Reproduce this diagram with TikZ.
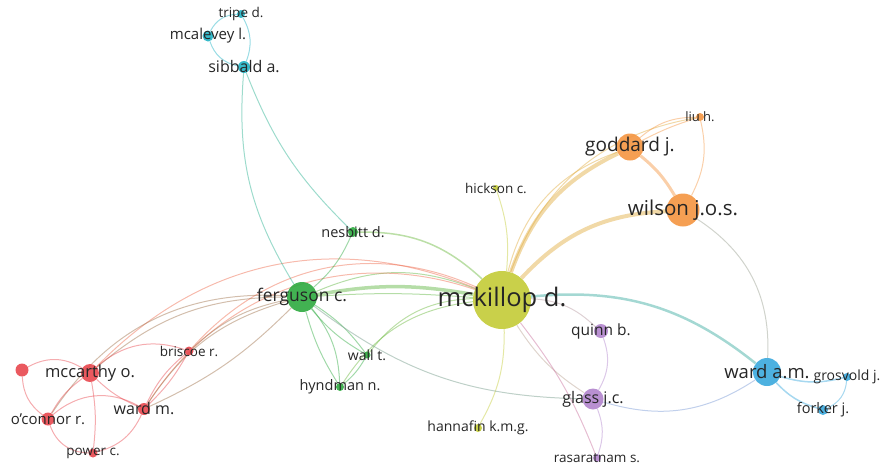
\documentclass[tikz,border=0pt]{standalone}
\usepackage{fontspec}
\setmainfont{Open Sans}
\usetikzlibrary{backgrounds}

\definecolor{txt}{HTML}{262626}
\definecolor{cred}{HTML}{E8474E}
\definecolor{cgreen}{HTML}{2DAA3F}
\definecolor{ccyan}{HTML}{1FB2C4}
\definecolor{cyel}{HTML}{C3CB36}
\definecolor{corg}{HTML}{F49540}
\definecolor{cpur}{HTML}{B184CC}
\definecolor{cblue}{HTML}{3AA8DD}

\tikzset{
  bub/.style={circle, fill=#1, fill opacity=.9, inner sep=0pt},
  lbl/.style={font=\fontsize{#1}{#1}\selectfont, text=txt, inner sep=0pt},
  lnk/.style={draw=#1, line width=1pt, draw opacity=.45},
}

\begin{document}
\begin{tikzpicture}[x=1pt,y=-1pt]
  \useasboundingbox (0,0) rectangle (881,466);

  % yellow cluster
  \node[bub=cyel, minimum size=58pt] (mck) at (502,300) {};
  \node[bub=cyel, minimum size=6pt] (hic) at (496,188) {};
  \node[bub=cyel, minimum size=8pt] (han) at (478,428) {};
  % green cluster
  \node[bub=cgreen, minimum size=30pt] (fer) at (302,297) {};
  \node[bub=cgreen, minimum size=10pt] (nes) at (353,232) {};
  \node[bub=cgreen, minimum size=7pt] (wal) at (367,355) {};
  \node[bub=cgreen, minimum size=8pt] (hyn) at (340,387) {};
  % cyan cluster
  \node[bub=ccyan, minimum size=12pt] (sib) at (244,67) {};
  \node[bub=ccyan, minimum size=11pt] (mca) at (208,36) {};
  \node[bub=ccyan, minimum size=8pt] (tri) at (241,14) {};
  % orange cluster
  \node[bub=corg, minimum size=27pt] (god) at (630,147) {};
  \node[bub=corg, minimum size=33pt] (wil) at (683,210) {};
  \node[bub=corg, minimum size=8pt] (liu) at (700,117) {};
  % purple cluster
  \node[bub=cpur, minimum size=14pt] (qui) at (601,331) {};
  \node[bub=cpur, minimum size=21pt] (gla) at (593,399) {};
  \node[bub=cpur, minimum size=8pt] (ras) at (597,458) {};
  % blue cluster
  \node[bub=cblue, minimum size=28pt] (wam) at (767,372) {};
  \node[bub=cblue, minimum size=8pt] (gro) at (847,377) {};
  \node[bub=cblue, minimum size=10pt] (frk) at (823,410) {};
  % red cluster
  \node[bub=cred, minimum size=18pt] (mcc) at (90,373) {};
  \node[bub=cred, minimum size=13pt] (unk) at (22,370) {};
  \node[bub=cred, minimum size=9pt] (bri) at (189,351) {};
  \node[bub=cred, minimum size=12pt] (wam2) at (144,409) {};
  \node[bub=cred, minimum size=13pt] (oco) at (48,419) {};
  \node[bub=cred, minimum size=9pt] (pow) at (93,453) {};

  \begin{scope}[on background layer]
    % links of mckillop d.
    \draw[lnk=cgreen!70!cyel, line width=3.5pt] (fer) to[bend left=10] (mck);
    \draw[lnk=cgreen!70!cyel] (fer) to[bend left=22] (mck);
    \draw[lnk=cgreen!70!cyel] (fer) to[bend left=4] (mck);
    \draw[lnk=cgreen!60!cyel, line width=1.5pt] (nes) to[bend left=22] (mck);
    \draw[lnk=cgreen!60!cyel] (wal) to[bend left=25] (mck);
    \draw[lnk=cgreen!60!cyel] (hyn) to[bend left=25] (mck);
    \draw[lnk=corg!60!cyel, line width=4pt] (mck) to[bend left=22] (god);
    \draw[lnk=corg!60!cyel] (mck) to[bend left=28] (god);
    \draw[lnk=corg!60!cyel, line width=4pt] (mck) to[bend left=22] (wil);
    \draw[lnk=corg!60!cyel] (mck) to[bend left=30] (liu);
    \draw[lnk=cyel] (hic) to[bend left=12] (mck);
    \draw[lnk=cyel] (han) to[bend right=15] (mck);
    \draw[lnk=cpur!60!cyel] (mck) to[bend right=12] (gla);
    \draw[lnk=cpur!70!cyel] (mck) to[bend left=20] (qui);
    \draw[lnk=cpur!60!cred] (mck) to[bend left=8] (ras);
    \draw[lnk=cblue!60!cgreen, line width=2.5pt] (mck) to[bend left=22] (wam);
    \draw[lnk=cred!60!corg] (mcc) to[bend left=34] (mck);
    \draw[lnk=cred!60!corg] (bri) to[bend left=36] (mck);
    \draw[lnk=cred!60!corg] (wam2) to[bend left=38] (mck);
    % links of ferguson c.
    \draw[lnk=cgreen] (nes) to[bend left=12] (fer);
    \draw[lnk=cgreen] (fer) to[bend left=10] (wal);
    \draw[lnk=cgreen] (fer) to[bend right=10] (wal);
    \draw[lnk=cgreen] (fer) to[bend left=18] (hyn);
    \draw[lnk=cgreen] (fer) to[bend right=8] (hyn);
    \draw[lnk=cgreen] (hyn) to[bend right=10] (wal);
    \draw[lnk=cgreen!50!cpur] (fer) to[bend right=18] (gla);
    \draw[lnk=cred!60!cgreen] (bri) to[bend left=15] (fer);
    \draw[lnk=cred!60!cgreen] (wam2) to[bend left=20] (fer);
    \draw[lnk=cred!60!cgreen] (wam2) to[bend right=10] (fer);
    \draw[lnk=cred!60!cgreen] (mcc) to[bend left=20] (fer);
    \draw[lnk=cred!60!cgreen] (oco) to[bend left=30] (fer);
    % cyan
    \draw[lnk=ccyan!60!cgreen] (sib) to[bend right=18] (fer);
    \draw[lnk=ccyan!60!cgreen] (sib) to[bend right=12] (nes);
    \draw[lnk=ccyan] (sib) to[bend left=30] (mca);
    \draw[lnk=ccyan] (mca) to[bend left=30] (tri);
    \draw[lnk=ccyan] (tri) to[bend left=25] (sib);
    % orange
    \draw[lnk=corg, line width=3pt] (god) to[bend left=10] (wil);
    \draw[lnk=corg] (god) to[bend left=20] (liu);
    \draw[lnk=corg] (god) to[bend left=5] (liu);
    \draw[lnk=corg] (wil) to[bend right=20] (liu);
    \draw[lnk=corg!50!cblue] (wil) to[bend left=30] (wam);
    % purple
    \draw[lnk=cpur] (qui) to[bend left=25] (gla);
    \draw[lnk=cpur] (gla) to[bend left=20] (ras);
    \draw[lnk=cpur!50!cblue] (gla) to[bend right=25] (wam);
    % blue
    \draw[lnk=cblue, line width=1.5pt] (wam) to[bend right=15] (gro);
    \draw[lnk=cblue, line width=1.5pt] (wam) to[bend right=15] (frk);
    \draw[lnk=cblue] (frk) to[bend right=30] (gro);
    % red
    \draw[lnk=cred] (unk) to[bend left=30] (mcc);
    \draw[lnk=cred] (unk) to[bend right=25] (oco);
    \draw[lnk=cred] (mcc) to[bend right=12] (oco);
    \draw[lnk=cred] (mcc) to[bend right=10] (wam2);
    \draw[lnk=cred] (mcc) to[bend left=8] (pow);
    \draw[lnk=cred] (mcc) to[bend left=30] (bri);
    \draw[lnk=cred] (oco) to[bend left=35] (wam2);
    \draw[lnk=cred] (oco) to[bend right=35] (pow);
    \draw[lnk=cred] (pow) to[bend right=25] (wam2);
    \draw[lnk=cred] (bri) to[bend right=12] (wam2);
    \draw[lnk=cred] (bri) to[bend left=8] (wam2);
  \end{scope}

  % labels
  \node[lbl=25.5] (t-mck) at (mck) {mckillop d.};
  \node[lbl=13.5] (t-hic) at (hic) {hickson c.};
  \node[lbl=14] (t-han) at (han) {hannafin k.m.g.};
  \node[lbl=17.5] (t-fer) at (fer) {ferguson c.};
  \node[lbl=14.5] (t-nes) at (nes) {nesbitt d.};
  \node[lbl=14] (t-wal) at (wal) {wall t.};
  \node[lbl=14.5] (t-hyn) at (hyn) {hyndman n.};
  \node[lbl=16] (t-sib) at (sib) {sibbald a.};
  \node[lbl=15] (t-mca) at (mca) {mcalevey l.};
  \node[lbl=13.5] (t-tri) at (tri) {tripe d.};
  \node[lbl=19] (t-god) at (god) {goddard j.};
  \node[lbl=20.5] (t-wil) at (wil) {wilson j.o.s.};
  \node[lbl=13] (t-liu) at (liu) {liu h.};
  \node[lbl=15.5] (t-qui) at (qui) {quinn b.};
  \node[lbl=16] (t-gla) at (gla) {glass j.c.};
  \node[lbl=13.5] (t-ras) at (ras) {rasaratnam s.};
  \node[lbl=18.5] (t-wam) at (wam) {ward a.m.};
  \node[lbl=14] (t-gro) at (gro) {grosvold j.};
  \node[lbl=14.5] (t-frk) at (frk) {forker j.};
  \node[lbl=16.5] (t-mcc) at (mcc) {mccarthy o.};
  \node[lbl=13.5] (t-bri) at (bri) {briscoe r.};
  \node[lbl=16] (t-wam2) at (wam2) {ward m.};
  \node[lbl=15] (t-oco) at (oco) {o'connor r.};
  \node[lbl=13.5] (t-pow) at (pow) {power c.};
\end{tikzpicture}
\end{document}
